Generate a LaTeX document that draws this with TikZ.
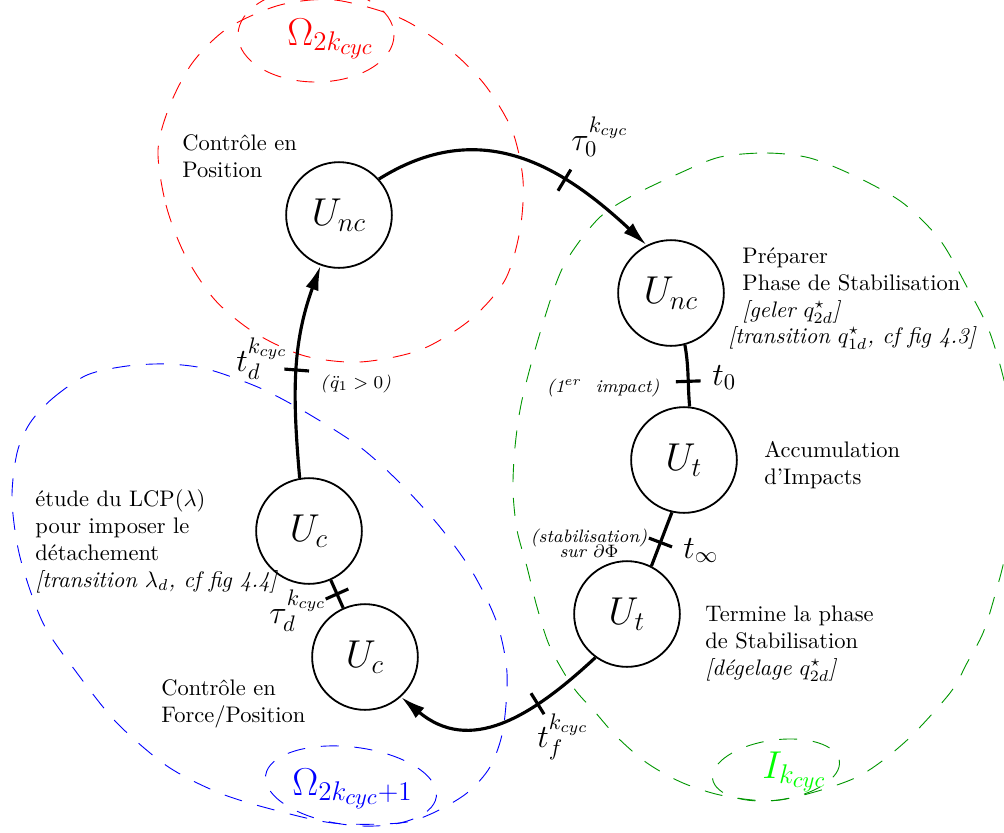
\documentclass[tikz,border=0pt]{standalone}
\usepackage{tikz}
\usetikzlibrary{arrows.meta}
\usetikzlibrary{positioning}

\definecolor{zonegreen}{RGB}{0,150,0}
\definecolor{labelgreen}{RGB}{0,255,0}

\tikzset{
  phase/.style={circle, draw, line width=0.8pt, minimum size=47pt, inner sep=0pt, font=\LARGE},
  cyclearc/.style={line width=1.4pt},
  tickmark/.style={sloped, draw, line width=1.4pt, inner sep=0pt, minimum width=0pt, minimum height=11pt},
  timelabel/.style={anchor=base west, inner sep=0pt, font=\Large},
  note/.style={anchor=base west, align=left, inner sep=0pt},
  smallnote/.style={inner sep=0pt, font=\footnotesize},
  zonelabel/.style={anchor=base west, inner sep=0pt, font=\LARGE},
  zone/.style={dash pattern=on 8pt off 7pt, line width=0.4pt},
}

\begin{document}
\begin{tikzpicture}[x=0.01562cm, y=-0.01562cm, >={Latex[length=11pt,width=6pt]}]
    \clip (0,0) rectangle (1004,832);

    % zones
    \draw[zone, red] plot[smooth cycle] coordinates {(158,150) (166,205) (185,255) (215,300) (255,333)
      (305,356) (360,362) (420,350) (470,320) (505,280) (520,230) (523,180) (512,130) (485,85)
      (450,50) (400,18) (335,0) (280,5) (228,28) (193,62) (170,105)};
    \draw[zone, blue] plot[smooth cycle] coordinates {(30,423) (53,398) (87,375) (127,366) (167,364)
      (207,369) (260,388) (307,413) (360,447) (400,483) (440,527) (473,573) (497,623) (507,673)
      (503,730) (490,767) (467,793) (433,813) (400,823) (333,823) (267,808) (217,792) (167,766)
      (117,723) (77,673) (43,623) (20,557) (12,500) (17,453)};
    \draw[zone, zonegreen] plot[smooth cycle] coordinates {(720,157) (767,153) (810,158) (857,177)
      (903,203) (940,240) (967,287) (990,333) (1008,400) (1012,480) (1006,550) (995,595) (983,633)
      (967,663) (950,693) (905,742) (855,778) (780,800) (725,796) (683,783) (647,763) (617,737)
      (595,712) (573,687) (550,647) (537,607) (527,567) (517,530) (513,490) (515,447) (522,400)
      (540,333) (563,267) (597,220) (630,197) (680,173)};
    \draw[zone, red] (316,35) ellipse (78 and 47);
    \draw[zone, blue, rotate around={-7:(351,786)}] (351,786) ellipse (86 and 39);
    \draw[zone, zonegreen, rotate around={8:(776,770)}] (776,770) ellipse (64 and 30);

    \node[zonelabel, text=red] (omegaeven) at (287,45) {$\Omega_{2k_{cyc}}$};
    \node[zonelabel, text=blue] (omegaodd) at (292,795) {$\Omega_{2k_{cyc}+1}$};
    \node[zonelabel, text=labelgreen] (impactzone) at (762,778) {$I_{k_{cyc}}$};

    % phases
    \node[phase] (unc1) at (339,215) {$U_{nc}$};
    \node[phase] (unc2) at (671,293) {$U_{nc}$};
    \node[phase] (ut1) at (684,460) {$U_t$};
    \node[phase] (ut2) at (627,614) {$U_t$};
    \node[phase] (uc2) at (365,657) {$U_c$};
    \node[phase] (uc1) at (309,531) {$U_c$};

    \draw[cyclearc,->] (unc1.42) to[out=32,in=137,looseness=1.1] node[tickmark,pos=.68] (tau0) {} (unc2.117);
    \draw[cyclearc] (unc2.-75) to[out=-80,in=95] node[tickmark,pos=.6] (t0) {} (ut1.84);
    \draw[cyclearc] (ut1.-103) -- node[tickmark,pos=.56] (tinf) {} (ut2.63);
    \draw[cyclearc,->] (ut2.-126) to[out=-137,in=-40,looseness=1.15] node[tickmark,pos=.3] (tf) {} (uc2.-48);
    \draw[cyclearc] (uc2) -- node[tickmark] (taud) {} (uc1);
    \draw[cyclearc,->] (uc1.100) to[out=95,in=-110] node[tickmark,pos=.5] (td) {} (unc1.-110);

    % instants
    \node[timelabel] (tau0lab) at (571,150) {$\tau_0^{k_{cyc}}$};
    \node[timelabel] (t0lab) at (712,385) {$t_0$};
    \node[timelabel] (tinflab) at (683,558) {$t_\infty$};
    \node[timelabel] (tflab) at (537,747) {$t_f^{k_{cyc}}$};
    \node[timelabel] (taudlab) at (269,623) {$\tau_d^{k_{cyc}}$};
    \node[timelabel] (tdlab) at (236,371) {$t_d^{k_{cyc}}$};

    \node[smallnote, anchor=base east] (impact) at (660,392) {\textit{(1$^{er}$\ \ impact)}};
    \node[smallnote, anchor=base west] (qdd) at (320,388) {\textit{(}$\ddot{q}_1 > 0$\textit{)}};
    \node[smallnote, align=center, anchor=base] (stab) at (589,557) {\textit{(stabilisation)}\\[-3pt]\textit{sur} $\partial\Phi$};

    % descriptions
    \node[note] (posctrl) at (182,177) {Contrôle en\\Position};
    \node[note] (prepare) at (742,317) {Préparer\\Phase de Stabilisation\\\textit{[geler $q^\star_{2d}$]}};
    \node[note] (transq) at (728,343) {\textit{[transition $q^\star_{1d}$, cf fig 4.3]}};
    \node[note] (accum) at (764,484) {Accumulation\\d'Impacts};
    \node[note] (finish) at (705,675) {Termine la phase\\de Stabilisation\\\textit{[dégelage $q^\star_{2d}$]}};
    \node[note] (lcp) at (35,587) {étude du LCP($\lambda$)\\pour imposer le\\détachement\\\textit{[transition $\lambda_d$, cf fig 4.4]}};
    \node[note] (forcectrl) at (161,722) {Contrôle en\\Force/Position};
\end{tikzpicture}
\end{document}
